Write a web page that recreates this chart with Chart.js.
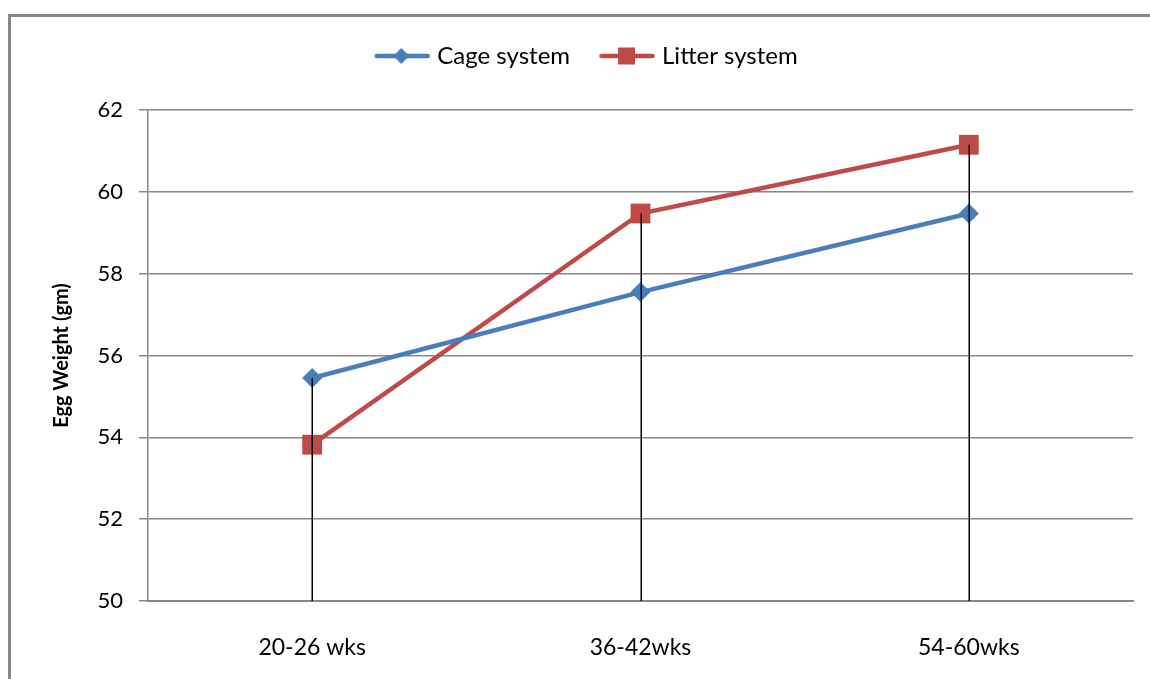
<!DOCTYPE html>
<html>
<head>
<meta charset="utf-8">
<script src="https://cdn.jsdelivr.net/npm/chart.js@4/dist/chart.umd.min.js"></script>
<style>
  html, body { margin: 0; padding: 0; background: #ffffff; }
  #wrap { position: relative; width: 1150px; height: 679px; }
</style>
</head>
<body>
<div id="wrap"><canvas id="c" width="1150" height="679"></canvas></div>
<script>
const categories = ['20-26 wks', '36-42wks', '54-60wks'];
const cageSystem = [55.45, 57.55, 59.47];
const litterSystem = [53.82, 59.47, 61.15];
const yTicks = [50, 52, 54, 56, 58, 60, 62];

const BLUE = '#4A7EBB';
const RED = '#BE4B48';
const GRAY = '#878787';
const FONT = 'Lato, "Open Sans", sans-serif';

function legendIcon(color, shape) {
  const cv = document.createElement('canvas');
  cv.width = 56; cv.height = 20;
  const g = cv.getContext('2d');
  g.strokeStyle = color; g.lineWidth = 4.5; g.lineCap = 'round';
  g.beginPath(); g.moveTo(2.5, 10); g.lineTo(53.5, 10); g.stroke();
  g.fillStyle = color;
  g.beginPath();
  if (shape === 'diamond') {
    g.moveTo(27, 2); g.lineTo(35, 10); g.lineTo(27, 18); g.lineTo(19, 10); g.closePath();
  } else {
    g.rect(19, 1.5, 17, 17);
  }
  g.fill();
  return cv;
}
const iconCage = legendIcon(BLUE, 'diamond');
const iconLitter = legendIcon(RED, 'square');

const framePlugin = {
  id: 'frame',
  beforeDraw(chart) {
    const ctx = chart.ctx;
    ctx.save();
    ctx.strokeStyle = GRAY;
    ctx.lineWidth = 3;
    ctx.beginPath();
    ctx.moveTo(9.5, 679);
    ctx.lineTo(9.5, 15.5);
    ctx.lineTo(1150, 15.5);
    ctx.stroke();
    ctx.restore();
  }
};

const dropLines = {
  id: 'dropLines',
  afterDatasetsDraw(chart) {
    const {ctx, chartArea, scales} = chart;
    ctx.save();
    ctx.strokeStyle = '#000000';
    ctx.lineWidth = 1.5;
    categories.forEach((c, i) => {
      const top = Math.max(cageSystem[i], litterSystem[i]);
      const px = Math.round(scales.x.getPixelForValue(i)) + 0.25;
      ctx.beginPath();
      ctx.moveTo(px, scales.y.getPixelForValue(top));
      ctx.lineTo(px, chartArea.bottom);
      ctx.stroke();
    });
    ctx.restore();
  }
};

const legendTweak = {
  id: 'legendTweak',
  beforeInit(chart) {
    const orig = chart.legend.fit;
    chart.legend.fit = function () {
      orig.call(this);
      this.height = 100;
    };
  },
  afterLayout(chart) {
    chart.legend.left += 22;
    chart.legend.right += 22;
  }
};

new Chart(document.getElementById('c'), {
  type: 'line',
  data: {
    labels: categories,
    datasets: [
      {
        label: 'Cage system',
        data: cageSystem,
        borderColor: BLUE,
        backgroundColor: BLUE,
        borderWidth: 4.5,
        pointStyle: 'rectRot',
        pointRadius: 10,
        pointHoverRadius: 10,
        pointBorderWidth: 0,
        tension: 0
      },
      {
        label: 'Litter system',
        data: litterSystem,
        borderColor: RED,
        backgroundColor: RED,
        borderWidth: 4.5,
        pointStyle: 'rect',
        pointRadius: 14,
        pointHoverRadius: 14,
        pointBorderWidth: 0,
        tension: 0
      }
    ]
  },
  options: {
    responsive: false,
    animation: false,
    devicePixelRatio: 1,
    layout: { padding: { top: 10, right: 17, left: 0, bottom: 0 } },
    plugins: {
      tooltip: { enabled: false },
      legend: {
        position: 'top',
        labels: {
          usePointStyle: true,
          pointStyleWidth: 46,
          padding: 34,
          color: '#000000',
          font: { family: FONT, size: 24 },
          generateLabels(chart) {
            return chart.data.datasets.map((ds, i) => ({
              text: ds.label,
              pointStyle: i === 0 ? iconCage : iconLitter,
              fillStyle: ds.borderColor,
              strokeStyle: ds.borderColor,
              lineWidth: 0,
              hidden: false,
              datasetIndex: i,
              fontColor: '#000000'
            }));
          }
        }
      }
    },
    scales: {
      x: {
        type: 'category',
        offset: true,
        grid: { display: false, drawTicks: false },
        border: { display: true, color: GRAY, width: 2 },
        ticks: { color: '#000000', padding: 33, font: { family: FONT, size: 23 } },
        afterFit(s) { s.height = 78; }
      },
      y: {
        min: 50,
        max: 62,
        afterBuildTicks(s) { s.ticks = yTicks.map(v => ({ value: v })); },
        grid: { color: GRAY, lineWidth: 1.5, tickLength: 9, drawTicks: true },
        border: { display: true, color: GRAY, width: 1.5 },
        ticks: { color: '#000000', padding: 16, font: { family: FONT, size: 22 } },
        title: {
          display: true,
          text: 'Egg Weight (gm)',
          color: '#000000',
          font: { family: FONT, size: 20, weight: 'bold' },
          padding: { top: 50, bottom: 0 }
        },
        afterFit(s) { s.width = 148; }
      }
    }
  },
  plugins: [framePlugin, dropLines, legendTweak]
});
</script>
</body>
</html>
